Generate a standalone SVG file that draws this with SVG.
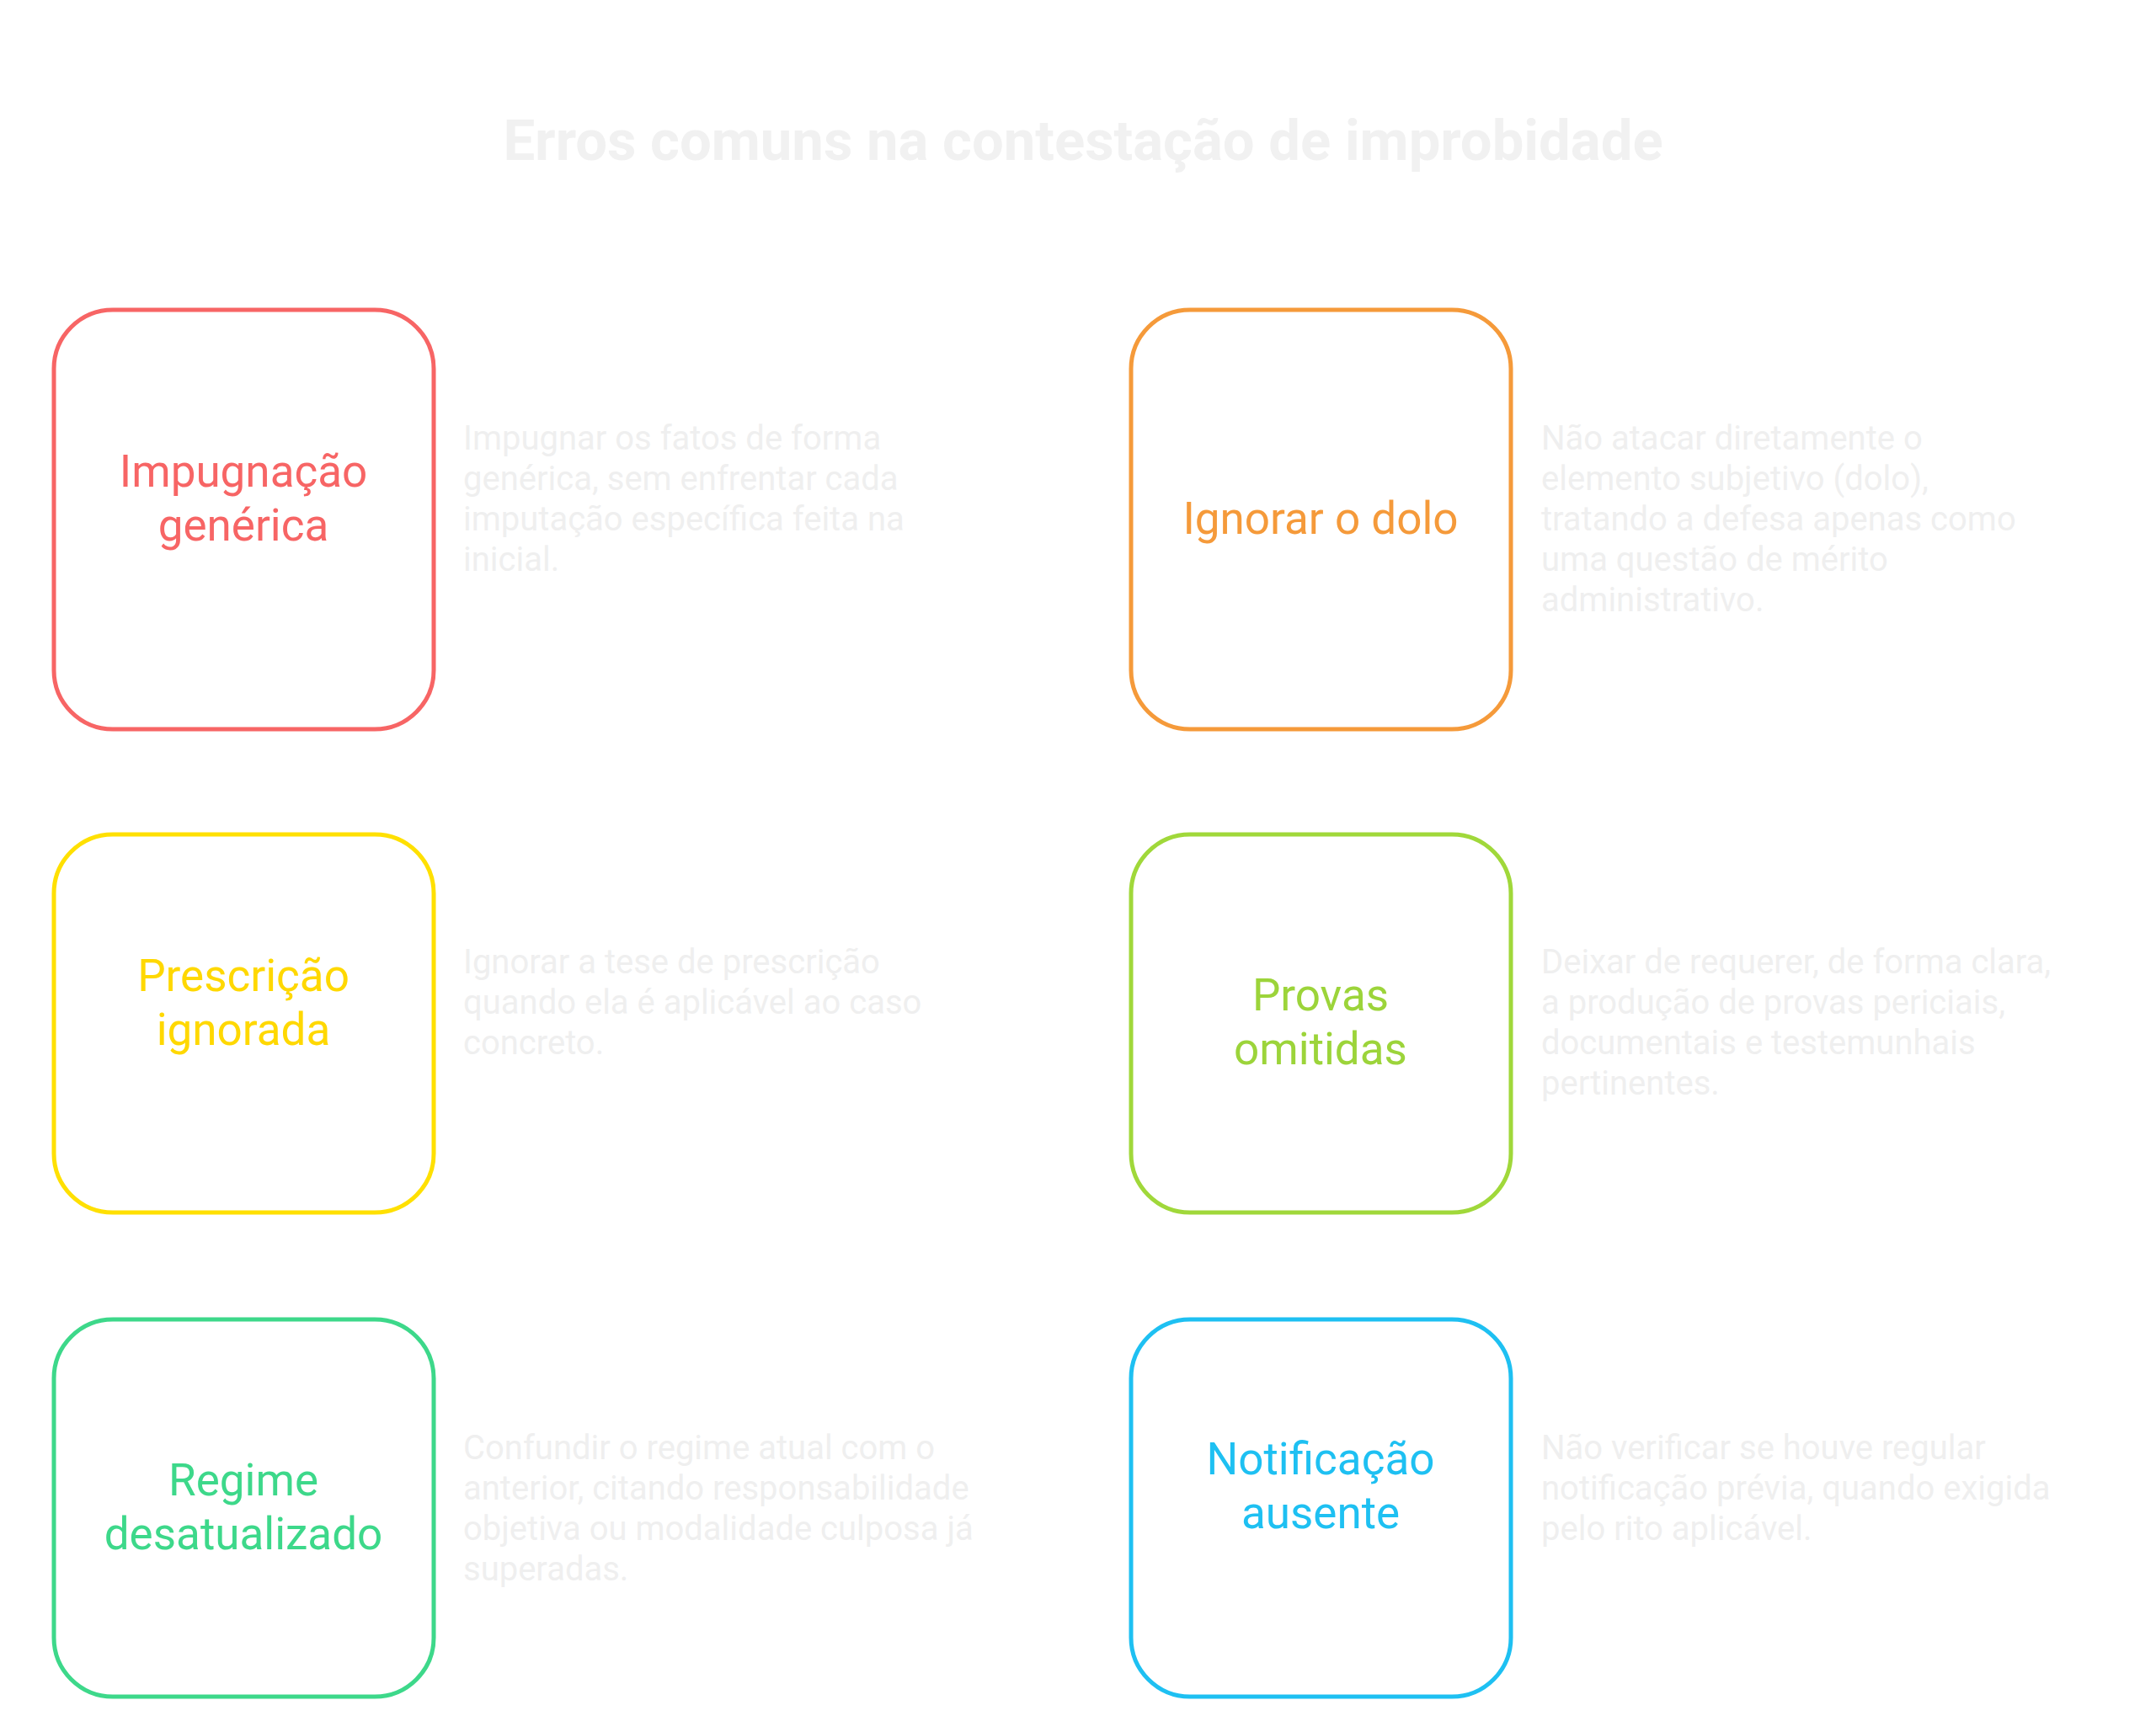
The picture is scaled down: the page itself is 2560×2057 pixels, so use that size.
<svg xmlns="http://www.w3.org/2000/svg" width="2560" height="2057" viewBox="0 0 2560 2057">
<style>
.box{fill:#fff;stroke-width:5}
.lbl{font-family:Roboto,"Liberation Sans",sans-serif;font-size:53px;text-anchor:middle}
.desc{font-family:Roboto,"Liberation Sans",sans-serif;font-size:40px;fill:#efefef}
.title{font-family:Roboto,"Liberation Sans",sans-serif;font-size:67px;font-weight:bold;fill:#f1f1f1;text-anchor:middle}
</style>
<rect width="2560" height="2057" fill="#fff"/>
<text class="title" x="1286" y="190">Erros comuns na contestação de improbidade</text>
<g id="connectors"/>
<g id="n1"><rect class="box" x="64" y="368" width="451" height="498" rx="70" stroke="#F76565"/>
<text class="lbl" fill="#F76565" x="289" y="578">Impugnação</text><text class="lbl" fill="#F76565" x="289" y="642">genérica</text>
<text class="desc" x="550" y="534">Impugnar os fatos de forma</text><text class="desc" x="550" y="582">genérica, sem enfrentar cada</text><text class="desc" x="550" y="630">imputação específica feita na</text><text class="desc" x="550" y="678">inicial.</text></g>
<g id="n2"><rect class="box" x="1351" y="368" width="451" height="498" rx="70" stroke="#F59A3A" transform="translate(-8 0)"/>
<text class="lbl" fill="#F59A3A" x="1568" y="634">Ignorar o dolo</text>
<text class="desc" x="1830" y="534">Não atacar diretamente o</text><text class="desc" x="1830" y="582">elemento subjetivo (dolo),</text><text class="desc" x="1830" y="630">tratando a defesa apenas como</text><text class="desc" x="1830" y="678">uma questão de mérito</text><text class="desc" x="1830" y="726">administrativo.</text></g>
<g id="n3"><rect class="box" x="64" y="991" width="451" height="449" rx="70" stroke="#FFE000"/>
<text class="lbl" fill="#FFD800" x="289" y="1177">Prescrição</text><text class="lbl" fill="#FFD800" x="289" y="1241">ignorada</text>
<text class="desc" x="550" y="1156">Ignorar a tese de prescrição</text><text class="desc" x="550" y="1204">quando ela é aplicável ao caso</text><text class="desc" x="550" y="1252">concreto.</text></g>
<g id="n4"><rect class="box" x="1343" y="991" width="451" height="449" rx="70" stroke="#A0D83A"/>
<text class="lbl" fill="#9CD43A" x="1568" y="1200">Provas</text><text class="lbl" fill="#9CD43A" x="1568" y="1264">omitidas</text>
<text class="desc" x="1830" y="1156">Deixar de requerer, de forma clara,</text><text class="desc" x="1830" y="1204">a produção de provas periciais,</text><text class="desc" x="1830" y="1252">documentais e testemunhais</text><text class="desc" x="1830" y="1300">pertinentes.</text></g>
<g id="n5"><rect class="box" x="64" y="1567" width="451" height="448" rx="70" stroke="#3DD88A"/>
<text class="lbl" fill="#3DD88A" x="289" y="1776">Regime</text><text class="lbl" fill="#3DD88A" x="289" y="1840">desatualizado</text>
<text class="desc" x="550" y="1733">Confundir o regime atual com o</text><text class="desc" x="550" y="1781">anterior, citando responsabilidade</text><text class="desc" x="550" y="1829">objetiva ou modalidade culposa já</text><text class="desc" x="550" y="1877">superadas.</text></g>
<g id="n6"><rect class="box" x="1343" y="1567" width="451" height="448" rx="70" stroke="#1EC0F2"/>
<text class="lbl" fill="#1EC0F2" x="1568" y="1751">Notificação</text><text class="lbl" fill="#1EC0F2" x="1568" y="1815">ausente</text>
<text class="desc" x="1830" y="1733">Não verificar se houve regular</text><text class="desc" x="1830" y="1781">notificação prévia, quando exigida</text><text class="desc" x="1830" y="1829">pelo rito aplicável.</text></g>
</svg>
